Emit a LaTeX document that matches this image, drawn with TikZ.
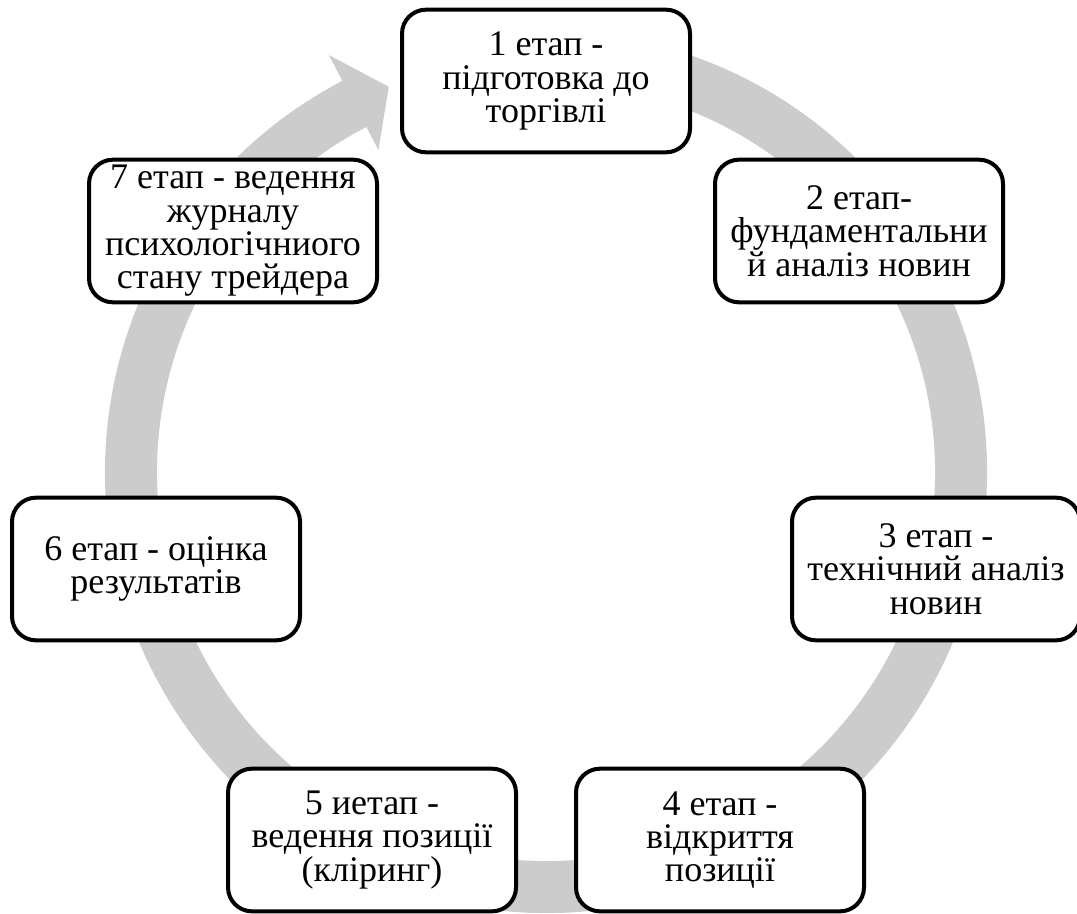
\documentclass[tikz,border=0pt]{standalone}
\usepackage{fontspec}
\setmainfont{Liberation Serif}
\usetikzlibrary{calc}

\definecolor{ringgray}{RGB}{204,204,204}

\begin{document}
\begin{tikzpicture}[x=0.75pt,y=-0.75pt,
  stage/.style={draw,line width=3pt,rounded corners=18pt,fill=white,
    minimum width=216pt,minimum height=107pt,align=center,inner sep=2pt,
    font=\fontsize{27}{25}\selectfont}]
\useasboundingbox (0,0) rectangle (1077,913);

\coordinate (o) at (546,472);

% the grey ring, closed by its arrow head in front of stage 1
\fill[ringgray] ($(o)+(-80:441)$) arc[start angle=-80,end angle=242.5,radius=441]
  -- ($(o)+(242.5:470)$) -- ($(o)+(247.8:416)$) -- ($(o)+(242.5:363)$)
  -- ($(o)+(242.5:389)$) arc[start angle=242.5,end angle=-80,radius=389] -- cycle;

\node[stage] (s1) at (546,81)  {1 етап -\\підготовка до\\торгівлі};
\node[stage] (s2) at (859,231) {2 етап-\\фундаментальни\\й аналіз новин};
\node[stage] (s3) at (936,569) {3 етап -\\технічний аналіз\\новин};
\node[stage] (s4) at (720,840) {4 етап -\\відкриття\\позиції};
\node[stage] (s5) at (372,840) {5 иетап -\\ведення позиції\\(кліринг)};
\node[stage] (s6) at (156,569) {6 етап - оцінка\\результатів};
\node[stage] (s7) at (233,231) {7 етап - ведення\\журналу\\психологічниого\\стану трейдера};

\end{tikzpicture}
\end{document}
